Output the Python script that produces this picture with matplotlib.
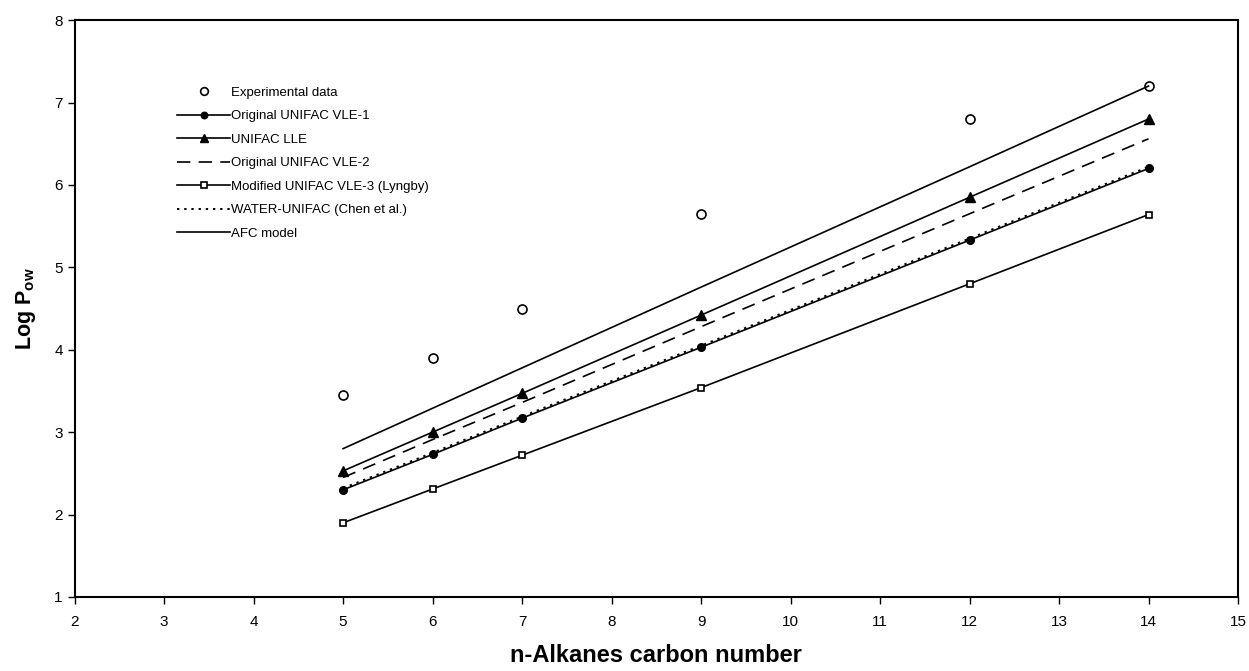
import matplotlib.pyplot as plt

plt.rcParams['font.family'] = ['Liberation Sans', 'DejaVu Sans']

carbons = [5, 6, 7, 9, 12, 14]
experimental = [3.45, 3.90, 4.50, 5.65, 6.80, 7.20]
unifac_vle1 = [2.30, 2.73, 3.17, 4.03, 5.33, 6.20]
unifac_lle = [2.53, 3.00, 3.47, 4.42, 5.85, 6.80]
unifac_vle2 = [2.45, 2.91, 3.36, 4.28, 5.65, 6.56]
modified_vle3 = [1.90, 2.31, 2.72, 3.54, 4.80, 5.64]
water_unifac = [2.32, 2.75, 3.19, 4.05, 5.35, 6.22]
afc_model = [2.80, 3.29, 3.78, 4.76, 6.22, 7.20]

fig = plt.figure(figsize=(12.49, 6.71), dpi=100)
ax = fig.add_axes([0.0597, 0.1103, 0.9315, 0.8597])

ax.plot(carbons, experimental, 'o', mfc='white', mec='black', mew=1.2, ms=6.5,
        linestyle='none', label='Experimental data')
ax.plot(carbons, unifac_vle1, '-o', color='black', lw=1.2, ms=5.5,
        label='Original UNIFAC VLE-1')
ax.plot(carbons, unifac_lle, '-^', color='black', lw=1.2, ms=6.5,
        label='UNIFAC LLE')
ax.plot(carbons, unifac_vle2, color='black', lw=1.2, dashes=(8, 5),
        label='Original UNIFAC VLE-2')
ax.plot(carbons, modified_vle3, '-s', color='black', lw=1.2, ms=5,
        mfc='white', mew=1.2, label='Modified UNIFAC VLE-3 (Lyngby)')
ax.plot(carbons, water_unifac, color='black', lw=1.4, dashes=(1.2, 2.5),
        label='WATER-UNIFAC (Chen et al.)')
ax.plot(carbons, afc_model, color='black', lw=1.2, label='AFC model')

ax.set_xlim(2, 15)
ax.set_ylim(1, 8)
ax.set_xticks(range(2, 16))
ax.set_yticks(range(1, 9))
ax.tick_params(labelsize=11, length=5, width=1, direction='out')
ax.tick_params(axis='x', pad=8)
for s in ax.spines.values():
    s.set_linewidth(1.5)

ax.set_xlabel('n-Alkanes carbon number', fontsize=17, fontweight='bold',
              labelpad=11)
ax.set_ylabel('Log P$_{\\mathregular{ow}}$', fontsize=15.5, fontweight='bold',
              labelpad=12)

ax.legend(loc='upper left', bbox_to_anchor=(0.078, 0.905), frameon=False,
          fontsize=9.5, handlelength=4, handletextpad=0.1,
          labelspacing=0.85, markerscale=0.85)

fig.savefig('out.png', dpi=100)
